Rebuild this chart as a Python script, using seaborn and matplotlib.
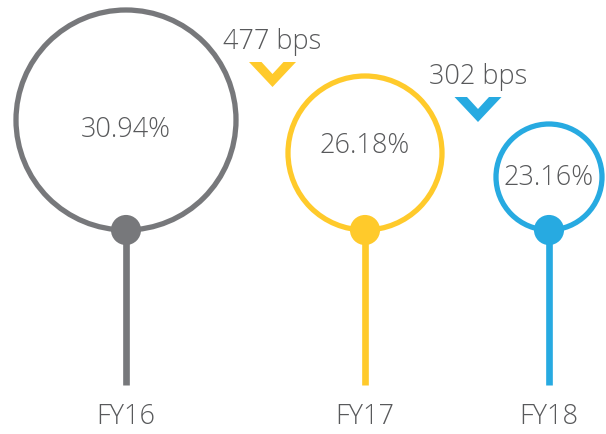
import pandas as pd
import numpy as np
import matplotlib.pyplot as plt
from matplotlib.patches import Circle, Polygon
import seaborn as sns

# data
years = ['FY16', 'FY17', 'FY18']
margins = [30.94, 26.18, 23.16]
bps_drop = [477, 302]

# layout (pixel space of a 606x434 canvas)
colors = ['#77787b', '#ffca2b', '#27aae1']
x_pos = [126, 365, 549]
radii = [110, 77, 53]
text_base = [137, 153, 185]
base_y = 230
stem_end = 385
chev_x = [272.5, 478]
chev_top = [62, 97]
bps_base = [49, 84]
text_col = '#58595b'

sns.set_theme(style='white')
plt.rcParams['font.family'] = ['Open Sans', 'DejaVu Sans']
plt.rcParams['font.weight'] = 'light'

df = pd.DataFrame({'year': years, 'margin': margins, 'x': x_pos, 'r': radii})
df['y'] = base_y

fig = plt.figure(figsize=(6.06, 4.34), dpi=100)
ax = fig.add_axes([0, 0, 1, 1])
ax.set_xlim(0, 606)
ax.set_ylim(434, 0)
ax.axis('off')

for i, row in df.iterrows():
    c = colors[i]
    # stem
    ax.plot([row['x'], row['x']], [row['y'], stem_end], color=c, lw=4.8, solid_capstyle='butt', zorder=1)
    # ring
    ax.add_patch(Circle((row['x'], row['y'] - row['r']), row['r'], fill=False,
                        ec=c, lw=3.8, zorder=2))
    ax.text(row['x'], text_base[i], f"{row['margin']:.2f}%", ha='center', va='baseline',
            fontsize=19.5, color=text_col, fontweight='light')
    ax.text(row['x'], 424, row['year'], ha='center', va='baseline',
            fontsize=19.5, color=text_col, fontweight='light')

sns.scatterplot(data=df, x='x', y='y', hue='year', palette=colors, s=470,
                edgecolor='none', legend=False, ax=ax, zorder=3)

# chevrons showing the drop between years
for i, bps in enumerate(bps_drop):
    cx, ty = chev_x[i], chev_top[i]
    pts = [(cx - 23.5, ty), (cx - 11, ty), (cx, ty + 12), (cx + 11, ty),
           (cx + 23.5, ty), (cx, ty + 25)]
    ax.add_patch(Polygon(pts, closed=True, fc=colors[i + 1], ec='none'))
    ax.text(cx, bps_base[i], f'{bps} bps', ha='center', va='baseline',
            fontsize=19.5, color=text_col, fontweight='light')

fig.savefig('out.png', dpi=100)
